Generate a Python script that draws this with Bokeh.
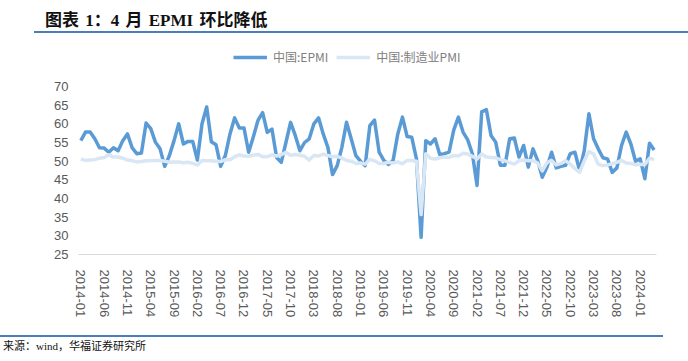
import pandas as pd
from bokeh.plotting import figure
from bokeh.models import Range1d, FixedTicker, Legend, LegendItem, Div
from bokeh.layouts import column
from bokeh.embed import file_html
from bokeh.resources import INLINE

# ---------------- data ----------------
months = [m.strftime("%Y-%m") for m in pd.period_range("2014-01", "2024-04", freq="M")]

epmi = [
    55.5, 57.8, 57.8, 56.0, 53.6, 53.5, 52.4, 53.6, 52.8, 55.5, 57.3, 53.6,   # 2014
    52.0, 52.2, 60.2, 58.7, 55.1, 53.3, 48.6, 51.5, 55.5, 60.0, 54.6, 55.3,   # 2015
    55.3, 50.3, 60.0, 64.5, 55.2, 54.4, 48.6, 51.5, 57.3, 61.6, 58.9, 58.9,   # 2016
    52.4, 56.5, 60.9, 63.0, 57.7, 58.6, 51.0, 49.7, 55.0, 60.4, 56.9, 52.8,   # 2017
    55.0, 56.0, 60.0, 61.6, 57.3, 53.7, 46.4, 48.8, 53.7, 60.4, 56.0, 51.5,   # 2018
    50.0, 48.8, 59.5, 61.0, 52.4, 50.2, 49.1, 50.2, 57.3, 61.8, 56.6, 56.4,   # 2019
    50.6, 29.6, 55.5, 54.6, 56.0, 51.8, 52.0, 52.4, 58.3, 61.8, 57.8, 55.7,   # 2020
    52.0, 43.5, 63.2, 63.8, 56.9, 55.1, 48.9, 48.9, 56.0, 56.2, 51.1, 54.2,   # 2021
    48.4, 53.3, 50.2, 45.7, 48.4, 52.4, 48.2, 48.6, 48.9, 52.0, 52.4, 47.5,   # 2022
    52.8, 62.7, 56.0, 53.3, 50.9, 50.6, 47.0, 48.2, 54.2, 57.8, 54.6, 50.0,   # 2023
    50.6, 45.3, 54.8, 53.0,                                                   # 2024
]

pmi = [
    50.5, 50.2, 50.3, 50.4, 50.8, 51.0, 51.7, 51.1, 51.1, 50.8, 50.3, 50.1,
    49.8, 49.9, 50.1, 50.1, 50.2, 50.2, 50.0, 49.7, 49.8, 49.8, 49.6, 49.7,
    49.4, 49.0, 50.2, 50.1, 50.1, 50.0, 49.9, 50.4, 50.4, 51.2, 51.7, 51.4,
    51.3, 51.6, 51.8, 51.2, 51.2, 51.7, 51.4, 51.7, 52.4, 51.6, 51.8, 51.6,
    51.3, 50.3, 51.5, 51.4, 51.9, 51.5, 51.2, 51.3, 50.8, 50.2, 50.0, 49.4,
    49.5, 49.2, 50.5, 50.1, 49.4, 49.4, 49.7, 49.5, 49.8, 49.3, 50.2, 50.2,
    50.0, 35.7, 52.0, 50.8, 50.6, 50.9, 51.1, 51.0, 51.5, 51.4, 52.1, 51.9,
    51.3, 50.6, 51.9, 51.1, 51.0, 50.9, 50.4, 50.1, 49.6, 49.2, 50.1, 50.3,
    50.1, 50.2, 49.5, 47.4, 49.6, 50.2, 49.0, 49.4, 50.1, 49.2, 48.0, 47.0,
    50.1, 52.6, 51.9, 49.2, 48.8, 49.0, 49.3, 49.7, 50.2, 49.5, 49.4, 49.0,
    49.2, 49.1, 50.8, 50.4,
]

series_names = ["中国:EPMI", "中国:制造业PMI"]
y_ticks = [25, 30, 35, 40, 45, 50, 55, 60, 65, 70]
x_tick_idx = list(range(0, len(months), 5))
x_tick_labels = {i: months[i] for i in x_tick_idx}
title_text = "图表 1：4 月 EPMI 环比降低"
source_text = "来源：wind，华福证券研究所"

W = 688
RULE = "#4A7EBB"
AXIS_TXT = "#595959"
CJK_NAME = "Noto Sans CJK SC"
SERIF_CJK = f"'Liberation Serif', '{CJK_NAME}'"

# ---------------- title block ----------------
title_div = Div(
    text=(
        f'<div style="box-sizing:border-box;margin:0;padding:11px 0 0 45px;height:31px;'
        f'line-height:20px;font-family:{SERIF_CJK};font-weight:bold;font-size:17px;'
        f'word-spacing:2px;color:#111111;white-space:nowrap;">{title_text}</div>'
        f'<div style="margin:0 0 0 34px;width:654px;height:2px;background:{RULE};"></div>'
    ),
    width=W, height=38, styles={"margin": "0", "padding": "0", "overflow": "hidden"},
)

# ---------------- main chart ----------------
x = list(range(len(months)))
p = figure(width=W, height=292,
           x_range=Range1d(-0.5, len(months) - 0.5), y_range=Range1d(25, 81.25),
           output_backend="svg", toolbar_location=None,
           min_border_left=78, min_border_right=32, min_border_top=6,
           min_border_bottom=76, outline_line_color=None)
p.grid.visible = False

r1 = p.line(x, epmi, line_color="#5B9BD5", line_width=3.5, line_join="round")
r2 = p.line(x, pmi, line_color="#D9E7F5", line_width=3.5, line_join="round")

p.yaxis.ticker = FixedTicker(ticks=y_ticks)
p.yaxis.axis_line_color = None
p.yaxis.major_tick_line_color = None
p.yaxis.minor_tick_line_color = None
p.yaxis.major_label_standoff = 4
p.yaxis.major_label_text_font_size = "13px"
p.yaxis.major_label_text_font = "Liberation Sans"
p.yaxis.major_label_text_color = AXIS_TXT

p.xaxis.ticker = FixedTicker(ticks=x_tick_idx)
p.xaxis.major_label_overrides = x_tick_labels
p.xaxis.major_label_orientation = "vertical"
p.xaxis.axis_line_color = "#D9D9D9"
p.xaxis.axis_line_width = 1
p.xaxis.major_tick_line_color = None
p.xaxis.minor_tick_line_color = None
p.xaxis.major_label_standoff = 9
p.xaxis.major_label_text_font_size = "13px"
p.xaxis.major_label_text_font = "Liberation Sans"
p.xaxis.major_label_text_color = AXIS_TXT

legend = Legend(items=[LegendItem(label=series_names[0], renderers=[r1]),
                       LegendItem(label=series_names[1], renderers=[r2])],
                location=(155, 189), orientation="horizontal",
                padding=0, margin=0, spacing=8, glyph_width=34, glyph_height=14,
                label_height=14, label_standoff=6,
                label_text_font=CJK_NAME, label_text_font_size="12px",
                label_text_color="#808080", background_fill_alpha=0,
                border_line_color=None)
p.add_layout(legend)

# ---------------- source block ----------------
source_div = Div(
    text=(
        f'<div style="margin:5px 0 0 0;width:663px;height:1.5px;background:{RULE};"></div>'
        f'<div style="margin:1px 0 0 0;padding-left:3px;height:16px;line-height:16px;'
        f'font-family:{SERIF_CJK};font-size:11px;color:#111111;white-space:nowrap;">'
        f'{source_text}</div>'
    ),
    width=W, height=31, styles={"margin": "0", "padding": "0", "overflow": "hidden"},
)

layout = column(title_div, p, source_div, spacing=0)
open("out.html", "w").write(file_html(layout, INLINE))
